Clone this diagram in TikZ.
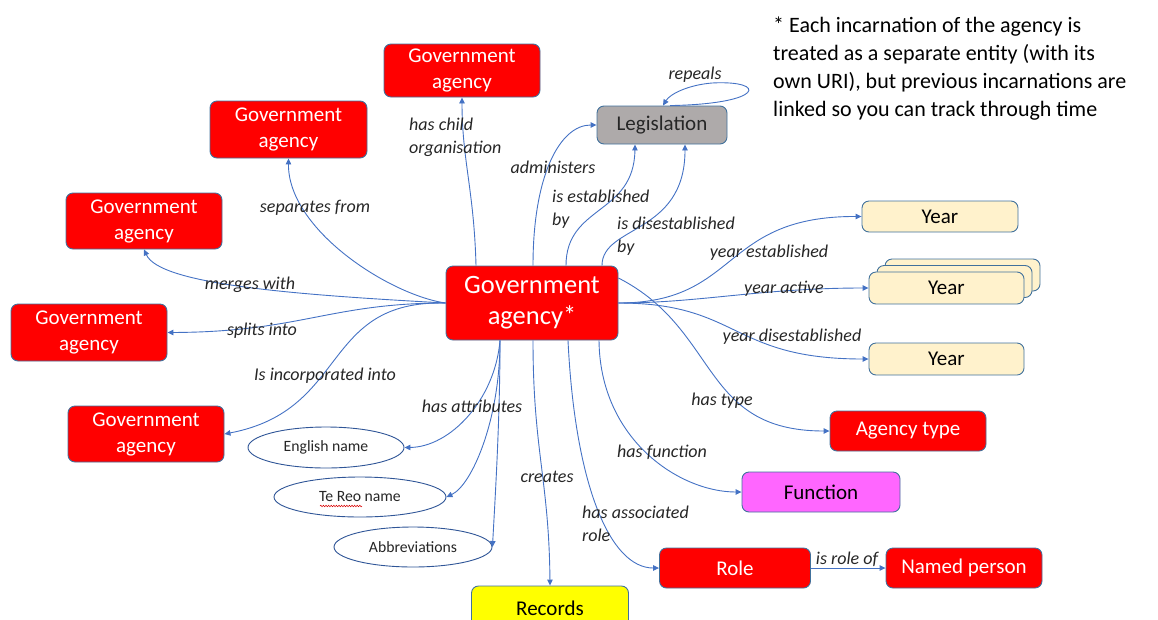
\documentclass[tikz,border=0pt]{standalone}
\usepackage{fontspec}
\setmainfont{Carlito}
\usetikzlibrary{arrows.meta,shapes.geometric,decorations.pathmorphing}

\definecolor{linkcol}{HTML}{4472C4}
\definecolor{rimcol}{HTML}{41719C}
\definecolor{agencyred}{HTML}{FF0000}
\definecolor{legisgray}{HTML}{AEAAAA}
\definecolor{yearfill}{HTML}{FFF2CC}
\definecolor{funcfill}{HTML}{FF66FF}
\definecolor{recfill}{HTML}{FFFF00}
\definecolor{ovalrim}{HTML}{2F5597}
\definecolor{labcol}{HTML}{262626}

\tikzset{
  box/.style={draw=rimcol, line width=0.9pt, rounded corners=7pt, align=center,
              inner sep=0pt, font=\fontsize{21}{26}\selectfont},
  redbox/.style={box, fill=agencyred, text=white},
  yearbox/.style={box, fill=yearfill, text=black, minimum width=155pt, minimum height=32pt},
  oval/.style={ellipse, draw=ovalrim, line width=0.9pt, fill=white, inner sep=0pt,
               font=\fontsize{15.7}{18}\selectfont, text=labcol},
  edge/.style={draw=linkcol, line width=0.9pt, -{Triangle[length=6pt,width=5.5pt]}},
  lab/.style={font=\itshape\fontsize{18}{23}\selectfont, text=labcol, inner sep=0pt, align=left},
}

\begin{document}
\begin{tikzpicture}[x=1pt, y=-1pt]
\useasboundingbox (0,0) rectangle (1158,619);

% ---- central entity ----
\node[redbox, minimum width=172pt, minimum height=74pt, font=\fontsize{26.5}{31}\selectfont]
  (ga) at (532,303) {Government\\agency*};

% ---- related agencies ----
\node[redbox, minimum width=156pt, minimum height=53pt] (gaT)  at (462,70.5) {Government\\agency};
\node[redbox, minimum width=157pt, minimum height=57pt] (gaLT) at (288.5,129.5) {Government\\agency};
\node[redbox, minimum width=156pt, minimum height=56pt] (gaL2) at (144,221) {Government\\agency};
\node[redbox, minimum width=156pt, minimum height=57pt] (gaL3) at (89,332.5) {Government\\agency};
\node[redbox, minimum width=156pt, minimum height=56pt] (gaL4) at (146,434) {Government\\agency};

% ---- legislation ----
\node[box, fill=legisgray, text=labcol, minimum width=130pt, minimum height=38pt] (leg) at (662,125) {Legislation};

% ---- years ----
\node[yearbox, minimum width=156pt, minimum height=31pt] (y1) at (940,216.5) {Year};
\node[yearbox] (y2c) at (962.5,275) {};
\node[yearbox] (y2b) at (954.5,281.5) {};
\node[yearbox] (y2)  at (946.5,288) {Year};
\node[yearbox] (y3)  at (946.5,359) {Year};

% ---- other targets ----
\node[redbox, minimum width=156pt, minimum height=40pt] (atype) at (908,431) {Agency type};
\node[box, fill=funcfill, text=black, minimum width=158pt, minimum height=40pt] (func) at (821,492) {Function};
\node[redbox, minimum width=151pt, minimum height=40pt] (role) at (735,568) {Role};
\node[redbox, minimum width=156pt, minimum height=40pt] (np) at (964,568) {Named person};
\node[box, fill=recfill, text=black, minimum width=157pt, minimum height=44pt] (rec) at (550,608) {Records};

% ---- attributes ----
\node[oval, minimum width=156pt, minimum height=41pt] (eng) at (326,447.5) {English name};
\node[oval, minimum width=172pt, minimum height=40pt] (reo) at (360,497) {Te Reo name};
\node[oval, minimum width=158pt, minimum height=40pt] (abbr) at (413,547) {Abbreviations};
\draw[red!85!black, line width=0.5pt, decorate,
      decoration={snake, amplitude=0.8pt, segment length=2.6pt}]
  ([xshift=-40pt,yshift=-9pt]reo.center) -- ([xshift=2pt,yshift=-9pt]reo.center);

% ---- note ----
\node[anchor=west, align=left, inner sep=0pt, text=black, font=\fontsize{22}{28}\selectfont]
  (note) at (773,69) {* Each incarnation of the agency is\\
  treated as a separate entity (with its\\
  own URI), but previous incarnations are\\
  linked so you can track through time};

% ---- connectors: upward ----
\draw[edge] ([xshift=-56pt]ga.north) .. controls (474,190) and (462,160) .. (gaT.south);
\draw[edge] ([xshift=1pt]ga.north) .. controls (533,175) and (560,125) .. (leg.west);
\draw[edge] ([xshift=34pt]ga.north) .. controls (566,205) and (634,215) .. ([xshift=-27pt]leg.south);
\draw[edge] ([xshift=70pt]ga.north) .. controls (602,225) and (685,235) .. ([xshift=23pt]leg.south);
\draw[edge] ([xshift=8pt]leg.north) .. controls (765,104) and (768,80) .. (712,83)
            .. controls (688,85) and (670,94) .. ([xshift=1pt]leg.north);

% ---- connectors: leftward ----
\draw[edge] (ga.west) .. controls (390,295) and (288,230) .. (gaLT.south);
\draw[edge] (ga.west) .. controls (300,295) and (160,285) .. (gaL2.south);
\draw[edge] (ga.west) .. controls (330,303) and (300,332) .. (gaL3.east);
\draw[edge] (ga.west) .. controls (320,300) and (350,410) .. (gaL4.east);

% ---- connectors: rightward ----
\draw[edge] (ga.east) .. controls (740,303) and (720,216) .. (y1.west);
\draw[edge] (ga.east) .. controls (700,303) and (760,288) .. (y2.west);
\draw[edge] (ga.east) .. controls (740,303) and (730,359) .. (y3.west);
\draw[edge] ([yshift=25pt]ga.east) .. controls (720,330) and (700,431) .. (atype.west);

% ---- connectors: downward ----
\draw[edge] ([xshift=-32pt]ga.south) .. controls (495,400) and (450,447) .. (eng.east);
\draw[edge] ([xshift=-32pt]ga.south) .. controls (500,420) and (472,485) .. (reo.east);
\draw[edge] ([xshift=-32pt]ga.south) .. controls (500,420) and (495,500) .. (abbr.east);
\draw[edge] ([xshift=1pt]ga.south) .. controls (533,450) and (549,480) .. (rec.north);
\draw[edge] ([xshift=36pt]ga.south) .. controls (575,485) and (610,568) .. (role.west);
\draw[edge] ([xshift=67pt]ga.south) .. controls (600,440) and (680,492) .. (func.west);
\draw[edge] (role.east) -- (np.west);

% ---- connector labels ----
\node[lab, anchor=west] at (409,137) {has child\\organisation};
\node[lab] at (553,167) {administers};
\node[lab, anchor=west] at (552,209.5) {is established\\by};
\node[lab, anchor=west] at (617,236) {is disestablished\\by};
\node[lab] at (695,75) {repeals};
\node[lab] at (315,208) {separates from};
\node[lab] at (250,285) {merges with};
\node[lab] at (262,331) {splits into};
\node[lab] at (325,376) {Is incorporated into};
\node[lab] at (769,253) {year established};
\node[lab] at (784,289) {year active};
\node[lab] at (792,337) {year disestablished};
\node[lab] at (722,401) {has type};
\node[lab] at (662,452) {has function};
\node[lab] at (472,406) {has attributes};
\node[lab] at (547,477) {creates};
\node[lab, anchor=west] at (582,523.5) {has associated\\role};
\node[lab] at (847,559) {is role of};
\end{tikzpicture}
\end{document}
